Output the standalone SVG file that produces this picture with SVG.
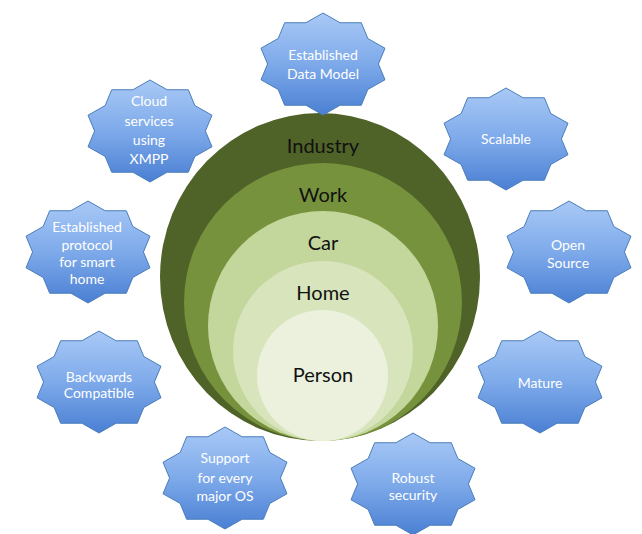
<svg xmlns="http://www.w3.org/2000/svg" xmlns:xlink="http://www.w3.org/1999/xlink" width="642" height="534" viewBox="0 0 642 534">
<style>
.st{fill:url(#blue);stroke:#4a7ebb;stroke-width:1}
.lbl{font-family:Lato,"Open Sans","Liberation Sans",sans-serif;font-size:14px;fill:#ffffff;text-anchor:middle}
.cl{font-family:Lato,"Open Sans","Liberation Sans",sans-serif;font-size:20px;fill:#111111;text-anchor:middle}
</style>
<defs>
<linearGradient id="blue" x1="0" y1="0" x2="0" y2="1">
<stop offset="0" stop-color="#a9c9f6"/>
<stop offset="0.5" stop-color="#7eaaea"/>
<stop offset="1" stop-color="#4a7fd3"/>
</linearGradient>
<path id="star" d="M0,-51 L17.12,-41.23 L38.32,-41.26 L44.83,-25.48 L62,-15.76 L55.41,0 L62,15.76 L44.83,25.48 L38.32,41.26 L17.12,41.23 L0,51 L-17.12,41.23 L-38.32,41.26 L-44.83,25.48 L-62,15.76 L-55.41,0 L-62,-15.76 L-44.83,-25.48 L-38.32,-41.26 L-17.12,-41.23 Z"/>
</defs>
<rect width="642" height="534" fill="#ffffff"/>
<g id="circles">
<g id="industry"><ellipse cx="320" cy="277" rx="160" ry="164" fill="#4f6228"/><text class="cl" x="323" y="153">Industry</text></g>
<g id="work"><circle cx="323" cy="302" r="139" fill="#76923c"/><text class="cl" x="323" y="202">Work</text></g>
<g id="car"><circle cx="323" cy="326" r="115" fill="#c3d69b"/><text class="cl" x="323" y="250">Car</text></g>
<g id="home"><circle cx="323" cy="351" r="90" fill="#d7e4bc"/><text class="cl" x="323" y="300">Home</text></g>
<g id="person"><circle cx="322.5" cy="375.5" r="65.5" fill="#ebf1dd"/><text class="cl" x="323" y="382">Person</text></g>
</g>
<g id="connectors"></g>
<g id="n-datamodel"><use xlink:href="#star" class="st" x="323" y="64"/><text class="lbl" x="323"><tspan x="323" y="60">Established</tspan><tspan x="323" y="79">Data Model</tspan></text></g>
<g id="n-cloud"><use xlink:href="#star" class="st" x="150" y="131"/><text class="lbl"><tspan x="149" y="106">Cloud</tspan><tspan x="149" y="126">services</tspan><tspan x="149" y="145">using</tspan><tspan x="149" y="164">XMPP</tspan></text></g>
<g id="n-scalable"><use xlink:href="#star" class="st" x="506" y="139"/><text class="lbl" x="506" y="144">Scalable</text></g>
<g id="n-protocol"><use xlink:href="#star" class="st" x="88" y="252"/><text class="lbl"><tspan x="87" y="232">Established</tspan><tspan x="87" y="250">protocol</tspan><tspan x="87" y="267">for smart</tspan><tspan x="87" y="284">home</tspan></text></g>
<g id="n-opensource"><use xlink:href="#star" class="st" x="569" y="252"/><text class="lbl"><tspan x="568" y="250">Open</tspan><tspan x="568" y="268">Source</tspan></text></g>
<g id="n-backwards"><use xlink:href="#star" class="st" x="99" y="382"/><text class="lbl"><tspan x="99" y="382">Backwards</tspan><tspan x="99" y="398">Compatible</tspan></text></g>
<g id="n-mature"><use xlink:href="#star" class="st" x="540" y="382"/><text class="lbl" x="540" y="388">Mature</text></g>
<g id="n-support"><use xlink:href="#star" class="st" x="225" y="478"/><text class="lbl"><tspan x="225" y="463">Support</tspan><tspan x="225" y="483">for every</tspan><tspan x="225" y="501">major OS</tspan></text></g>
<g id="n-robust"><use xlink:href="#star" class="st" x="413" y="484"/><text class="lbl"><tspan x="413" y="483">Robust</tspan><tspan x="413" y="500">security</tspan></text></g>
</svg>
